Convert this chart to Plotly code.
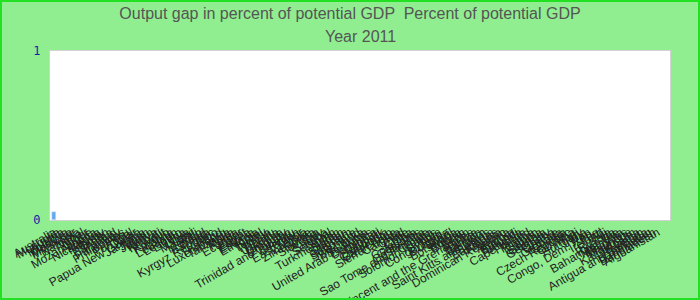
import plotly.graph_objects as go

anchors = {
    0: "Australia", 1: "Mongolia", 9: "Mozambique", 11: "Nicaragua",
    17: "Philippines", 21: "Papua New Guinea", 39: "Kyrgyz Republic",
    42: "Luxembourg", 44: "Malta", 45: "Korea", 58: "Trinidad and Tobago",
    61: "East Timor", 66: "Italy", 70: "Turkmenistan", 73: "Vietnam",
    78: "United Arab Emirates", 84: "Sierra Leone",
    92: "Sao Tome and Principe", 94: "Solomon Islands",
    103: "St. Vincent and the Grenadines", 107: "Saint Kitts and Nevis",
    111: "Dominican Republic", 114: "Burundi", 116: "Cape Verde",
    127: "Czech Republic", 133: "Congo, Dem. Rep.", 139: "Bahamas, The",
    146: "Antigua and Barbuda", 148: "Bangladesh", 149: "Afghanistan",
}
fillers = [
    "Austria", "Moldova", "Morocco", "Myanmar", "Namibia", "Nepal", "Niger",
    "Nigeria", "Norway", "Oman", "Panama", "Poland", "Paraguay", "Peru",
    "Portugal", "Qatar", "Jamaica", "Japan", "Jordan", "Kenya", "Kiribati",
    "Kuwait", "Kosovo", "Latvia", "Lebanon", "Lesotho", "Liberia", "Libya",
    "Malawi", "Mali", "Mexico", "Iceland", "Tonga", "Togo", "Thailand",
    "Tanzania", "Ecuador", "Egypt", "Eritrea", "Estonia", "Ethiopia",
    "Israel", "Turkey", "Tunisia", "Tuvalu", "Uganda", "Ukraine", "Uruguay",
    "Vanuatu", "Yemen", "Zambia", "Zimbabwe", "Serbia", "Slovenia", "Samoa",
    "Senegal", "Spain", "Sudan", "Sweden", "Suriname", "Swaziland",
    "Sri Lanka", "St. Lucia", "Dominica", "Djibouti", "Denmark", "Cambodia",
    "Cameroon", "Canada", "Chad", "Chile", "China", "Colombia", "Comoros",
    "Costa Rica", "Croatia", "Cyprus", "Congo, Rep.", "Bulgaria", "Brazil",
    "Botswana", "Bolivia", "Bhutan", "Benin", "Belize", "Bahrain",
    "Belgium", "Belarus", "Barbados", "Albania", "Algeria", "Angola",
    "Armenia", "Finland", "France", "Gabon", "Gambia", "Georgia", "Germany",
    "Ghana", "Greece", "Grenada", "Guinea", "Guyana", "Haiti", "Hungary",
    "India", "Iran", "Iraq", "Ireland", "Fiji", "Russia", "Rwanda",
    "Malaysia", "Maldives", "Mauritius", "Kazakhstan", "Lithuania",
    "Pakistan", "Uzbekistan", "Venezuela", "Singapore", "Seychelles",
    "Switzerland", "Burkina Faso",
]

N_CAT = 150
countries = []
fi = iter(fillers)
for i in range(N_CAT):
    countries.append(anchors[i] if i in anchors else next(fi))

values = [0.05] + [None] * (N_CAT - 1)

title_line1 = "Output gap in percent of potential GDP  Percent of potential GDP"
title_line2 = "Year 2011"

W, H = 700, 300
ML, MR, MT, MB = 50, 30, 51, 80
PW, PH = W - ML - MR, H - MT - MB

fig = go.Figure(go.Bar(x=countries, y=values, marker_color="#64a9f0"))

fig.update_layout(
    width=W, height=H,
    margin=dict(l=ML, r=MR, t=MT, b=MB, pad=0),
    paper_bgcolor="#90ee90",
    plot_bgcolor="#ffffff",
    bargap=0.0,
    showlegend=False,
    title=dict(text=title_line1, x=0.5, xanchor="center", yref="container",
               y=1 - 13 / H, yanchor="middle",
               font=dict(family="Liberation Sans, Arial", size=16, color="#555555")),
    annotations=[dict(
        text=title_line2, xref="paper", yref="paper", x=0.5,
        y=(PH + MT - 36) / PH, xanchor="center", yanchor="middle",
        showarrow=False,
        font=dict(family="Liberation Sans, Arial", size=16, color="#555555"),
    )],
    xaxis=dict(
        type="category", tickangle=-30, showgrid=False,
        range=[-1, N_CAT + 2],
        tickfont=dict(family="Liberation Sans, Arial", size=12, color="#222222"),
        showline=True, linecolor="#d3d3d3", linewidth=1, mirror=True,
        ticks="", automargin=False, dtick=1,
    ),
    yaxis=dict(
        range=[0, 1], tickvals=[0, 1], ticktext=["0", "1"], showgrid=False,
        zeroline=False,
        tickfont=dict(family="DejaVu Sans Mono", size=12, color="#1a1aa6"),
        showline=True, linecolor="#d3d3d3", linewidth=1, mirror=True,
        ticks="outside", ticklen=6, tickcolor="rgba(0,0,0,0)",
        automargin=False,
    ),
    shapes=[dict(
        type="rect", xref="paper", yref="paper",
        x0=-(ML - 1) / PW, x1=1 + (MR - 1) / PW,
        y0=-(MB - 1) / PH, y1=1 + (MT - 1) / PH,
        line=dict(color="#22e022", width=2), fillcolor="rgba(0,0,0,0)",
        layer="above",
    )],
)

fig.write_html("out.html")
